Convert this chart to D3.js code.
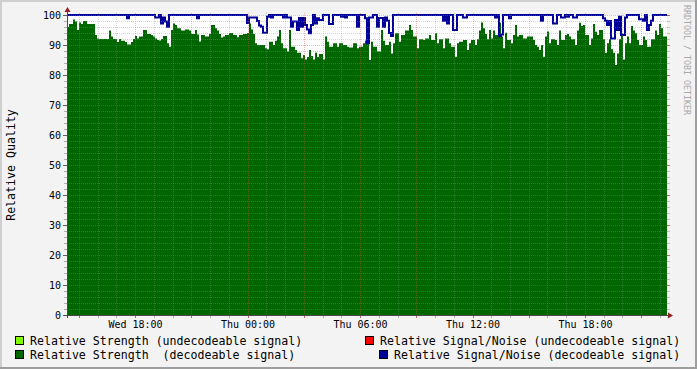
<!DOCTYPE html>
<html><head><meta charset="utf-8">
<script src="https://cdn.jsdelivr.net/npm/d3@7"></script>
<style>body{margin:0;background:#F3F3F3} svg{display:block}</style>
</head><body><svg id="c" width="697" height="369"></svg>
<script>
// ---- data ----
const startTime = Date.UTC(2024, 0, 3, 14, 22, 24); // Wed 14:22
const stepSeconds = 384;
const strengthDecodeable = [
96,97,97,98.5,97.8,95,97.5,97,98,98,
97,97,97,97,93.3,92.2,92,92,92,92,
92,94.8,92.8,92,92,91,92,91.4,91.4,91,
90.2,90.2,91,92,93,92.2,92.8,92.8,95,95,
93.7,93.7,93.3,92.8,92.2,91.7,91.5,92,93,93,
90.6,89.4,95,97.2,96.7,95.6,95.6,94.8,94.8,95.2,
95.2,94.8,93.7,93.7,95,93.5,91.2,93.3,93.3,92.8,
92.8,93.7,96.7,96.7,95.6,94.8,93.7,92.5,92.8,93.3,
93.3,94,94,93.3,93.3,92.6,93.3,93.3,93.7,93.7,
94,97.2,95.2,93.7,90.6,90,90,90,90,88.9,
88.6,91.1,91.1,90,91.4,92.8,95,90.6,88.9,88.9,
87.8,95,89.4,89.4,88.3,87.4,87.4,85.6,86.7,85.2,
86,88.3,86.3,85.2,87.4,86,87,87,85.2,92.8,
91.1,89.4,89.4,90.6,90.6,89.4,90.6,90.6,90,90,
89.4,89.2,89.2,90.6,90.6,88.9,89.4,89.4,90.6,91.5,
90.6,85,91.1,89.4,89.4,87.8,87.8,95,91.4,90,
90,91.1,87.2,90.6,93.9,93.9,91.1,93.3,93.3,94.8,
94.8,96.7,95,92.8,92.8,88.9,91.9,91.9,91.7,92.2,
92.2,93.3,91.7,91.7,93.9,90.6,91.9,91.9,88.9,92.2,
92.2,90.6,89.4,89.4,86.1,90.6,91.1,91.1,91.7,91.7,
88.3,90.6,91.7,91.7,90,91.9,94.8,97.5,95.6,93.7,
91.9,95,92.2,94.8,93.3,93.3,97.4,92.8,88.9,94.1,
91.7,91.7,90.6,93.3,96.7,92.8,93.3,93.3,92.2,92.2,
92.8,92.8,92.8,91.7,90,89.4,88.3,90,86.1,92.8,
94.5,90.6,91.9,91.9,91.7,90,94.8,91.7,91.7,93.3,
93.7,92.8,91.9,91.9,90,94.8,97.4,96.3,96.7,93.3,
93.3,90,92.2,97,94.4,93.3,95,95,91.9,87.4,
90.6,91.9,88.6,87.4,83.3,87.2,91.9,93.9,85.2,90.6,
92.8,90.6,96.3,94.8,93.9,91.7,90,90,92.8,91.7,
89.4,89.4,91.9,91.9,94.8,93.3,97,95.6,92.8,92.8
];
const signalNoiseDecodeable = [
100,100,100,100,100,100,100,100,100,100,
100,100,100,100,100,100,100,100,100,100,
100,100,100,100,100,100,100,100,100,100,
98.9,100,100,100,100,100,100,100,100,100,
100,100,100,100,99.2,99.2,100,97.2,99.2,97.8,
96.1,100,100,100,100,100,100,100,100,100,
100,100,100,100,100,98.9,100,100,100,100,
100,100,100,100,100,100,100,100,100,100,
100,100,100,100,100,100,100,100,100,100,
97.3,99.2,99.2,99.2,99.2,98,96.5,96.1,94.1,94.1,
99.4,100,99.2,100,100,100,100,100,99.2,100,
99.2,99.2,96.1,97.8,97.8,95,99,96.1,99,96.7,
95.2,93.9,96.7,100,97.2,98.9,98.3,98.3,100,100,
100,97,97,100,100,100,100,99.4,100,99.2,
100,100,100,100,100,96.1,100,100,100,98.9,
90.6,99.2,99.2,100,100,96.1,99,99,96.1,99.2,
98.1,94,93,100,100,100,100,100,100,100,
100,100,100,100,100,100,100,100,100,100,
100,100,100,100,100,100,100,100,98.1,100,
97.2,100,100,95,95,100,100,100,99.2,99.2,
100,100,100,100,100,100,100,100,100,100,
100,100,100,100,99.2,100,93,93.5,100,100,
100,98.9,100,100,100,100,100,100,100,100,
100,100,100,100,100,100,100,98.1,100,100,
100,100,100,97.2,97.2,100,100,99.2,99.2,100,
99.4,100,100,99.2,99.2,100,100,100,100,100,
100,100,100,100,100,100,100,100,98.9,98.1,
96.7,98,92.2,92.2,98.3,95,99.4,93.3,93.3,99.2,
100,100,100,100,100,100,98.6,98.6,98.1,100,
95,96.7,98.1,100,100,100,100,100,100,100
];
const yTickValues = [0,10,20,30,40,50,60,70,80,90,100];
const yTitle = "Relative Quality";
const watermark = "RRDTOOL / TOBI OETIKER";
const legendLabels = [
  "Relative Strength (undecodeable signal)",
  "Relative Signal/Noise (undecodeable signal)",
  "Relative Strength  (decodeable signal)",
  "Relative Signal/Noise (decodeable signal)"
];
const legendColors = ["#80FF00", "#FF0000", "#006600", "#000099"];

// ---- layout ----
const W = 697, H = 369;
const L = 67, R = 667, T = 15, B = 315;
const FONT = "'DejaVu Sans Mono', monospace";
const svg = d3.select('#c');

const n = strengthDecodeable.length;
const t0 = new Date(startTime);
const t1 = new Date(startTime + n * stepSeconds * 1000);
const x = d3.scaleUtc().domain([t0, t1]).range([L, R]);
const y = d3.scaleLinear().domain([0, 100]).range([B, T]);

// background and shading
svg.append('rect').attr('width', W).attr('height', H).attr('fill', '#F3F3F3');
svg.append('rect').attr('x', 0).attr('y', 0).attr('width', W).attr('height', 2).attr('fill', '#CFCFCF');
svg.append('rect').attr('x', 0).attr('y', 0).attr('width', 2).attr('height', H).attr('fill', '#CFCFCF');
svg.append('rect').attr('x', 0).attr('y', H - 2).attr('width', W).attr('height', 2).attr('fill', '#9E9E9E');
svg.append('rect').attr('x', W - 2).attr('y', 0).attr('width', 2).attr('height', H).attr('fill', '#9E9E9E');

// canvas
svg.append('rect').attr('x', L).attr('y', T).attr('width', R - L).attr('height', B - T).attr('fill', '#FFFFFF');

function pts(arr) {
  const p = arr.map((v, i) => ({ t: new Date(startTime + i * stepSeconds * 1000), v }));
  p.push({ t: t1, v: arr[arr.length - 1] });
  return p;
}

// green area
const area = d3.area().curve(d3.curveStepAfter)
  .x(d => x(d.t)).y0(y(0)).y1(d => y(d.v));
svg.append('path').datum(pts(strengthDecodeable)).attr('d', area).attr('fill', '#006600');

// blue line
const line = d3.line().curve(d3.curveStepAfter).x(d => x(d.t)).y(d => y(d.v));
svg.append('path').datum(pts(signalNoiseDecodeable)).attr('d', line)
  .attr('fill', 'none').attr('stroke', '#000099').attr('stroke-width', 2);

// grid
const g = svg.append('g');
const hours = d3.utcHour.range(t0, t1);
const isMajor = d => d.getUTCHours() % 3 === 0;
const minorCol = 'rgba(143,143,143,0.38)';
const majorCol = 'rgba(222,80,80,0.42)';
hours.forEach(h => {
  const xx = Math.round(x(h)) + 0.5;
  const maj = isMajor(h);
  g.append('line').attr('x1', xx).attr('x2', xx).attr('y1', T - 2).attr('y2', B)
    .attr('stroke', maj ? majorCol : minorCol)
    .attr('stroke-dasharray', '1,1');
  g.append('line').attr('x1', xx).attr('x2', xx).attr('y1', B).attr('y2', B + 3)
    .attr('stroke', maj ? '#D06060' : '#B0B0B0');
});
d3.range(0, 101, 2).forEach(v => {
  const yy = Math.round(y(v)) + 0.5;
  const maj = v % 10 === 0;
  if (v > 0) {
    g.append('line').attr('x1', L).attr('x2', R + 2).attr('y1', yy).attr('y2', yy)
      .attr('stroke', maj ? majorCol : minorCol)
      .attr('stroke-dasharray', '1,1');
  }
  g.append('line').attr('x1', maj ? L - 4 : L - 3).attr('x2', L).attr('y1', yy).attr('y2', yy)
    .attr('stroke', maj ? '#606060' : '#B0B0B0');
  g.append('line').attr('x1', R).attr('x2', R + 3).attr('y1', yy).attr('y2', yy)
    .attr('stroke', maj ? '#D06060' : '#C0C0C0');
});

// axes
svg.append('line').attr('x1', L + 0.5).attr('x2', L + 0.5).attr('y1', B + 3).attr('y2', T - 4)
  .attr('stroke', '#4A4A4A');
svg.append('line').attr('x1', L - 3).attr('x2', R + 3).attr('y1', B + 0.5).attr('y2', B + 0.5)
  .attr('stroke', '#4A4A4A');
svg.append('path').attr('d', `M${L - 2.5},${T - 3} L${L + 0.5},${T - 8} L${L + 3.5},${T - 3} Z`).attr('fill', '#8F1F1F');
svg.append('path').attr('d', `M${R + 1},${B - 2.5} L${R + 6},${B + 0.5} L${R + 1},${B + 3.5} Z`).attr('fill', '#8F1F1F');

// y labels
svg.selectAll('.yl').data(yTickValues).enter().append('text')
  .attr('x', 61).attr('y', d => y(d)).attr('text-anchor', 'end')
  .attr('dominant-baseline', 'central').attr('font-family', FONT).attr('font-size', 10)
  .attr('fill', '#000').text(d => d);

// x labels
const labelHours = hours.filter(h => h.getUTCHours() % 6 === 0);
const fmt = d3.utcFormat('%a %H:%M');
svg.selectAll('.xl').data(labelHours).enter().append('text')
  .attr('x', d => x(d) + 0.5).attr('y', 324).attr('text-anchor', 'middle')
  .attr('dominant-baseline', 'central').attr('font-family', FONT).attr('font-size', 10)
  .attr('fill', '#000').text(d => fmt(d));

// y title
svg.append('text').attr('transform', `translate(11,${(T + B) / 2}) rotate(-90)`)
  .attr('text-anchor', 'middle').attr('dominant-baseline', 'central')
  .attr('font-family', FONT).attr('font-size', 11.6).attr('fill', '#000').text(yTitle);

// watermark
svg.append('text').attr('transform', 'translate(687,5) rotate(90)')
  .attr('text-anchor', 'start').attr('dominant-baseline', 'central')
  .attr('font-family', FONT).attr('font-size', 8.3).attr('fill', '#A8A8A8').text(watermark);

// legend
const legendPos = [
  { bx: 15, tx: 30, cy: 341 },
  { bx: 365, tx: 380, cy: 341 },
  { bx: 15, tx: 30, cy: 355 },
  { bx: 379, tx: 394, cy: 355 }
];
legendLabels.forEach((lab, i) => {
  const p = legendPos[i];
  svg.append('rect').attr('x', p.bx + 0.5).attr('y', p.cy - 4.5).attr('width', 8).attr('height', 8)
    .attr('fill', legendColors[i]).attr('stroke', '#000').attr('stroke-width', 1);
  svg.append('text').attr('x', p.tx).attr('y', p.cy).attr('dominant-baseline', 'central')
    .attr('font-family', FONT).attr('font-size', 11.6).attr('fill', '#000')
    .attr('xml:space', 'preserve').style('white-space', 'pre').text(lab);
});
</script></body></html>
